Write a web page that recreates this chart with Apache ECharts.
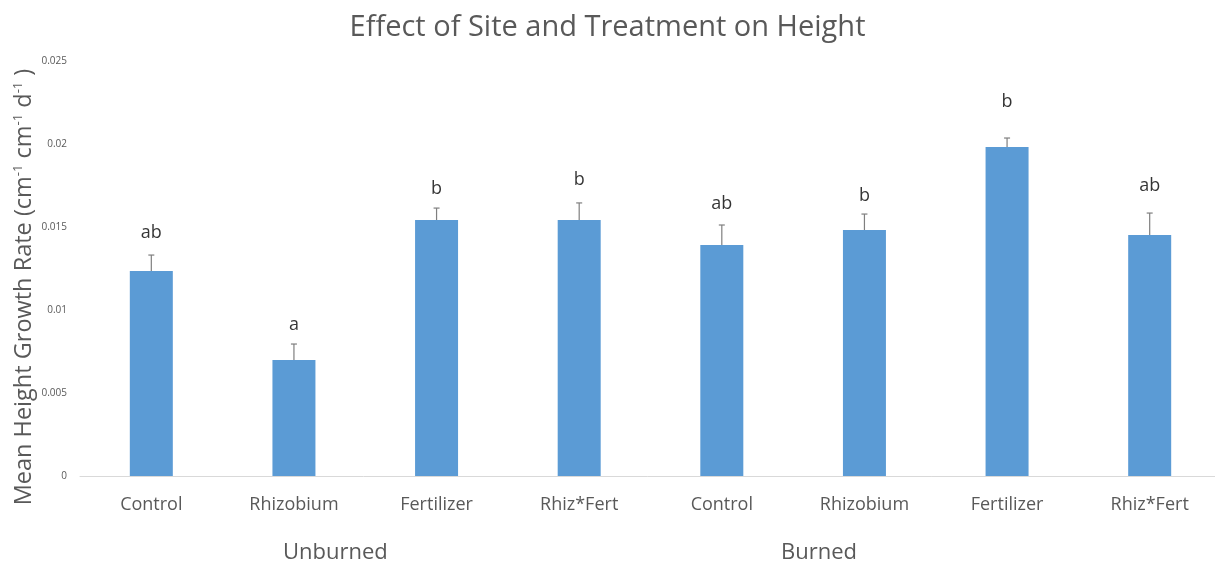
<!DOCTYPE html>
<html>
<head>
<meta charset="utf-8">
<script src="https://cdn.jsdelivr.net/npm/echarts@6/dist/echarts.min.js"></script>
<style>
html,body{margin:0;padding:0;background:#fff;}
#chart{width:1215px;height:565px;}
</style>
</head>
<body>
<div id="chart"></div>
<script>
// treatments on the x axis (4 unburned then 4 burned)
var categories = ['Control', 'Rhizobium', 'Fertilizer', 'Rhiz*Fert', 'Control', 'Rhizobium', 'Fertilizer', 'Rhiz*Fert'];
var groups = ['Unburned', 'Burned'];
// mean height growth rate
var means = [0.01235, 0.00699, 0.01542, 0.01542, 0.01392, 0.01482, 0.01982, 0.01452];
// standard error (upper whisker only)
var errors = [0.00096, 0.00096, 0.00072, 0.00103, 0.00120, 0.00096, 0.00054, 0.00132];
// significance letters and where they sit
var letters = ['ab', 'a', 'b', 'b', 'ab', 'b', 'b', 'ab'];
var letterY = [0.01464, 0.0091, 0.01729, 0.01783, 0.01639, 0.01687, 0.02253, 0.01747];
var yTicks = [0, 0.005, 0.01, 0.015, 0.02, 0.025];

var textColor = '#595959';
var font = 'Open Sans';

var chart = echarts.init(document.getElementById('chart'));

var errData = [];
for (var i = 0; i < means.length; i++) {
	errData.push([i, means[i], means[i] + errors[i]]);
}
var letterData = [];
for (var k = 0; k < letters.length; k++) {
	letterData.push([k, letterY[k]]);
}

chart.setOption({
	animation: false,
	title: {
		text: 'Effect of Site and Treatment on Height',
		left: 'center',
		top: 8,
		textStyle: {
			fontFamily: font,
			fontSize: 29,
			fontWeight: 'normal',
			color: textColor
		}
	},
	grid: {
		left: 80,
		right: -6,
		top: 61,
		bottom: 89,
		outerBoundsMode: 'none'
	},
	xAxis: {
		type: 'category',
		data: categories,
		axisLine: { lineStyle: { color: '#d9d9d9' } },
		axisTick: { show: false },
		axisLabel: {
			fontFamily: font,
			fontSize: 18,
			color: textColor,
			margin: 20
		}
	},
	yAxis: {
		type: 'value',
		min: 0,
		max: 0.025,
		interval: 0.005,
		splitLine: { show: false },
		axisLine: { show: false },
		axisTick: { show: false },
		axisLabel: {
			fontFamily: font,
			fontSize: 10,
			color: textColor,
			margin: 13,
			formatter: function (v) {
				for (var t = 0; t < yTicks.length; t++) {
					if (Math.abs(v - yTicks[t]) < 1e-9) return String(yTicks[t]);
				}
				return '';
			}
		}
	},
	series: [
		{
			type: 'bar',
			data: means,
			barWidth: 43,
			itemStyle: { color: '#5b9bd5' }
		},
		{
			type: 'custom',
			data: errData,
			z: 5,
			renderItem: function (params, api) {
				var x = api.value(0);
				var lo = api.coord([x, api.value(1)]);
				var hi = api.coord([x, api.value(2)]);
				var style = { stroke: '#7f7f7f', lineWidth: 1.2 };
				return {
					type: 'group',
					children: [
						{ type: 'line', shape: { x1: lo[0], y1: lo[1], x2: hi[0], y2: hi[1] }, style: style },
						{ type: 'line', shape: { x1: hi[0] - 3, y1: hi[1], x2: hi[0] + 3, y2: hi[1] }, style: style }
					]
				};
			}
		},
		{
			type: 'scatter',
			data: letterData,
			symbolSize: 0,
			label: {
				show: true,
				position: 'inside',
				fontFamily: font,
				fontSize: 18,
				color: '#000',
				formatter: function (p) {
					return letters[p.dataIndex];
				}
			}
		}
	],
	graphic: [
		{
			type: 'text',
			x: 24,
			y: 287,
			rotation: Math.PI / 2,
			style: {
				text: '{n|Mean Height Growth Rate (cm}{s|-1}{n| cm}{s|-1}{n| d}{s|-1}{n| )}',
				align: 'center',
				verticalAlign: 'middle',
				rich: {
					n: { fontFamily: font, fontSize: 23.5, fill: textColor, lineHeight: 30 },
					s: { fontFamily: font, fontSize: 13, fill: textColor, lineHeight: 30, padding: [0, 0, 12, 0] }
				}
			}
		},
		{
			type: 'text',
			left: 283,
			top: 542,
			style: { text: groups[0], font: '22px "Open Sans"', fill: textColor }
		},
		{
			type: 'text',
			left: 781,
			top: 542,
			style: { text: groups[1], font: '22px "Open Sans"', fill: textColor }
		}
	]
});
</script>
</body>
</html>
